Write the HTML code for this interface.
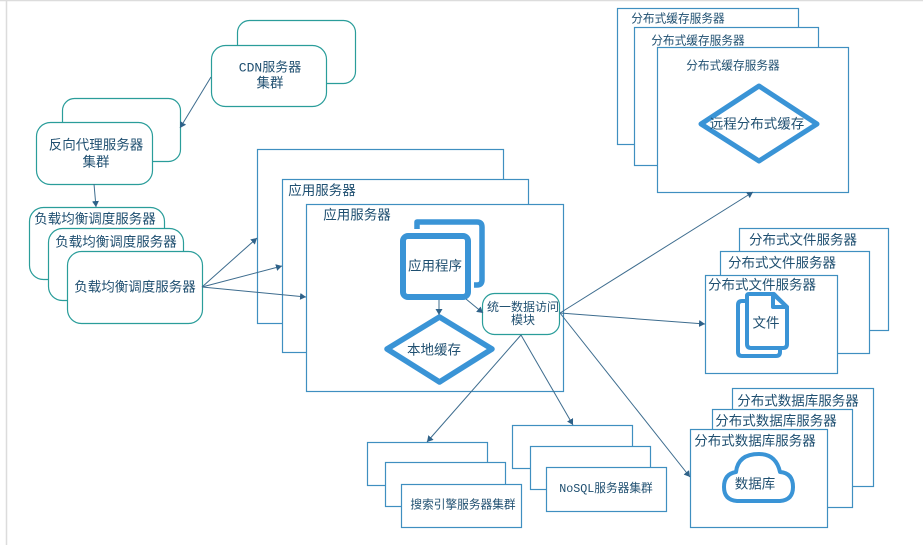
<!DOCTYPE html>
<html lang="zh">
<head>
<meta charset="utf-8">
<style>
html,body{margin:0;padding:0;background:#fff;width:923px;height:545px;overflow:hidden}
svg{display:block}
text{font-family:"Liberation Sans","Noto Sans CJK SC",sans-serif;fill:#1f4f70;text-anchor:middle;dominant-baseline:central}
.m{font-family:"Liberation Mono","Noto Sans CJK SC",monospace}
.t{fill:#fff;stroke:#2a9d9a;stroke-width:1.2}
.b{fill:#fff;stroke:#3f8fc0;stroke-width:1.2}
.i{fill:#fff;stroke:#3a94d6;stroke-linejoin:round}
.l{stroke:#3d6c8e;stroke-width:1;fill:none;marker-end:url(#a)}
</style>
</head>
<body>
<svg width="923" height="545" viewBox="0 0 923 545" xmlns="http://www.w3.org/2000/svg">
<defs>
<marker id="a" markerUnits="userSpaceOnUse" markerWidth="8" markerHeight="8" refX="6" refY="3.5" orient="auto">
<path d="M0,0 L6,3.5 L0,7 Z" fill="#2f6289"/>
</marker>
</defs>
<path d="M0,0.5H923" stroke="#dcdcdc" stroke-width="1.5"/>
<path d="M6.5,0V545" stroke="#dcdcdc" stroke-width="1.5"/>

<!-- CDN -->
<rect class="t" x="237.5" y="20.5" width="118" height="63" rx="12"/>
<rect class="t" x="211.5" y="45.5" width="115" height="61" rx="14"/>
<text class="m" x="270" y="68" font-size="13">CDN服务器</text>
<text x="270" y="83" font-size="13.5">集群</text>

<!-- Reverse proxy -->
<rect class="t" x="62.5" y="98.5" width="118" height="63" rx="12"/>
<rect class="t" x="36.5" y="122.5" width="116" height="62" rx="14"/>
<text x="96" y="145" font-size="13.5">反向代理服务器</text>
<text x="96" y="162" font-size="13.5">集群</text>

<!-- Load balancers -->
<rect class="t" x="29.5" y="207.5" width="135" height="72" rx="14"/>
<text x="95" y="219" font-size="13.5">负载均衡调度服务器</text>
<rect class="t" x="48.5" y="228.5" width="135" height="72" rx="14"/>
<text x="116" y="242" font-size="13.5">负载均衡调度服务器</text>
<rect class="t" x="67.5" y="251.5" width="135" height="72" rx="14"/>
<text x="135" y="287" font-size="13.5">负载均衡调度服务器</text>

<!-- App servers -->
<rect class="b" x="257.5" y="149.5" width="246" height="174"/>
<rect class="b" x="282.5" y="179.5" width="246" height="173"/>
<text x="322" y="190.5" font-size="13.5">应用服务器</text>
<rect class="b" x="306.5" y="204.5" width="257" height="187"/>
<text x="357" y="215" font-size="13.5">应用服务器</text>

<path d="M417,229 V222 H477 Q482,222 482,227 V280 Q482,285 477,285 H474" fill="none" stroke="#3a94d6" stroke-width="5.5" stroke-linejoin="round"/>
<rect class="i" x="403" y="236" width="65" height="61" rx="5" stroke-width="6"/>
<text x="435" y="266" font-size="13.5">应用程序</text>
<polygon class="i" points="439.5,317 492,349 439.5,382 387,349" stroke-width="5.5"/>
<text x="434" y="350" font-size="13.5">本地缓存</text>
<rect class="t" x="482.5" y="293.5" width="77" height="41" rx="12"/>
<text x="523" y="307" font-size="12">统一数据访问</text>
<text x="523" y="320" font-size="12">模块</text>

<!-- Cache servers -->
<rect class="b" x="617.5" y="8.5" width="181" height="136"/>
<text x="678" y="19" font-size="11.7">分布式缓存服务器</text>
<rect class="b" x="634.5" y="27.5" width="184" height="138"/>
<text x="698" y="41" font-size="11.7">分布式缓存服务器</text>
<rect class="b" x="657.5" y="47.5" width="191" height="145"/>
<text x="733" y="66" font-size="11.7">分布式缓存服务器</text>
<polygon class="i" points="759,86 817,124 759,161 701,124" stroke-width="5"/>
<text x="757" y="124" font-size="13.5">远程分布式缓存</text>

<!-- File servers -->
<rect class="b" x="739.5" y="228.5" width="149" height="102"/>
<text x="803" y="240" font-size="13.5">分布式文件服务器</text>
<rect class="b" x="720.5" y="251.5" width="149" height="102"/>
<text x="782" y="263" font-size="13.5">分布式文件服务器</text>
<rect class="b" x="705.5" y="275.5" width="132" height="98"/>
<text x="762" y="285" font-size="13.5">分布式文件服务器</text>
<path d="M746,301 H742 Q738,301 738,305 V352 Q738,356 742,356 H776 Q780,356 780,352 V349" fill="none" stroke="#3a94d6" stroke-width="4" stroke-linejoin="round"/>
<path d="M749,294 H774 L787,307 V344 Q787,348 783,348 H751 Q747,348 747,344 V296 Q747,294 749,294 Z" fill="#fff" stroke="#3a94d6" stroke-width="4" stroke-linejoin="round"/>
<path d="M773,294 V307 H787 Z" fill="#fff" stroke="#3a94d6" stroke-width="4" stroke-linejoin="round"/>
<text x="766" y="323" font-size="13.5">文件</text>

<!-- DB servers -->
<rect class="b" x="732.5" y="388.5" width="141" height="98"/>
<text x="798" y="401" font-size="13.5">分布式数据库服务器</text>
<rect class="b" x="712.5" y="409.5" width="140" height="98"/>
<text x="776" y="421" font-size="13.5">分布式数据库服务器</text>
<rect class="b" x="690.5" y="429.5" width="137" height="98"/>
<text x="755" y="441" font-size="13.5">分布式数据库服务器</text>
<path d="M737,501 Q724,500 724,487 Q724,474 736,472 Q738,454 759,454 Q776,454 780,472 Q793,473 793,487 Q793,500 780,501 Z" fill="#fff" stroke="#3a94d6" stroke-width="4" stroke-linejoin="round"/>
<text x="755" y="484" font-size="13.5">数据库</text>

<!-- Search -->
<rect class="b" x="367.5" y="442.5" width="120" height="43"/>
<rect class="b" x="385.5" y="462.5" width="120" height="44"/>
<rect class="b" x="401.5" y="484.5" width="120" height="43"/>
<text x="463" y="505" font-size="11.7">搜索引擎服务器集群</text>

<!-- NoSQL -->
<rect class="b" x="512.5" y="425.5" width="120" height="43"/>
<rect class="b" x="530.5" y="446.5" width="120" height="43"/>
<rect class="b" x="546.5" y="467.5" width="120" height="44"/>
<text class="m" x="606" y="489" font-size="11.7">NoSQL服务器集群</text>

<!-- Connectors -->
<path class="l" d="M211,77 L180,128"/>
<path class="l" d="M94,184 L96,207"/>
<path class="l" d="M202,287 L257,238"/>
<path class="l" d="M202,287 L282,266"/>
<path class="l" d="M202,287 L306,297"/>
<path class="l" d="M439,300 L439,315"/>
<path class="l" d="M466,299 L483,313"/>
<path class="l" d="M560,313 L753,192"/>
<path class="l" d="M560,313 L705,324"/>
<path class="l" d="M560,313 L690,477"/>
<path class="l" d="M521,335 L427,442"/>
<path class="l" d="M521,335 L573,425"/>
</svg>
</body>
</html>
